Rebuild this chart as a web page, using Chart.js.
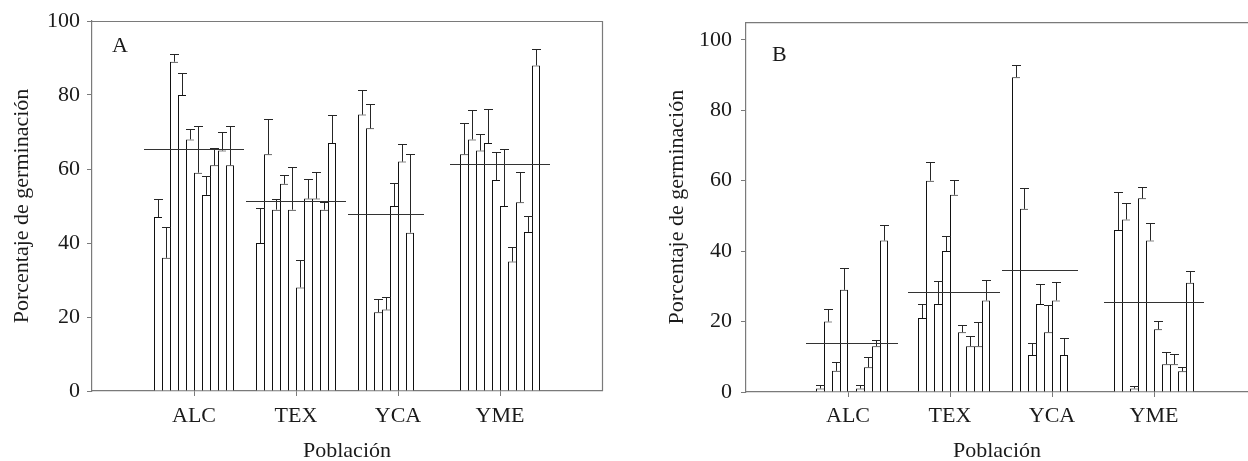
<!DOCTYPE html>
<html><head><meta charset="utf-8">
<script src="https://cdn.jsdelivr.net/npm/chart.js@4/dist/chart.umd.min.js"></script>
<style>
html,body{margin:0;padding:0;background:#fff;overflow:hidden}
#wa{position:absolute;left:0;top:0;width:620px;height:461px}
#wb{position:absolute;left:640px;top:0;width:608px;height:461px}
</style></head><body>
<div id="wa"><canvas id="ca"></canvas></div>
<div id="wb"><canvas id="cb"></canvas></div>
<script>
// ---------- data ----------
const categories = ['ALC', 'TEX', 'YCA', 'YME'];
const yTickValues = [0, 20, 40, 60, 80, 100];
const xTitle = 'Población';
const yTitle = 'Porcentaje de germinación';

// Panel A: 10 bars per population (null = no bar)
const a_ALC = [47, 36, 89, 80, 68, 59, 53, 61, 65, 61];
const a_TEX = [40, 64, 49, 56, 49, 28, 52, 52, 49, 67];
const a_YCA = [74.7, 71, 21.3, 22, 50, 62, 42.8, null, null, null];
const a_YME = [64, 68, 65, 67, 57, 50, 35, 51, 43, 88];
const aErr_ALC = [5, 8.3, 2, 6, 2.8, 12.5, 5, 4.8, 5.1, 10.5];
const aErr_TEX = [9.5, 9.5, 3, 2.4, 11.5, 7.5, 5.4, 7.1, 2.1, 7.7];
const aErr_YCA = [6.7, 6.7, 3.7, 3.5, 6.2, 4.7, 21.2, null, null, null];
const aErr_YME = [8.5, 7.9, 4.5, 9.3, 7.7, 15.5, 3.8, 8.1, 4.3, 4.4];
const aMeans = [65.5, 51.3, 47.8, 61.3];

// Panel B
const b_ALC = [null, 1, 20, 6, 29, null, 1, 7, 13, 43];
const b_TEX = [null, 21, 60, 25, 40, 56, 17, 13, 13, 26];
const b_YCA = [89.4, 52, 10.5, 25, 17, 26, 10.5, null, null, null];
const b_YME = [46, 49, 1, 55, 43, 17.8, 7.9, 7.9, 5.9, 31];
const bErr_ALC = [null, 1, 3.5, 2.4, 6.1, null, 1, 2.9, 1.9, 4.4];
const bErr_TEX = [null, 4.1, 5.3, 6.4, 4.3, 4.1, 1.9, 2.9, 6.8, 5.8];
const bErr_YCA = [3.5, 5.8, 3.5, 5.6, 7.7, 5.2, 4.9, null, null, null];
const bErr_YME = [10.9, 4.7, 0.8, 3.1, 5, 2.5, 3.5, 2.8, 1.1, 3.4];
const bMeans = [13.9, 28.5, 34.5, 25.6];

// ---------- rendering ----------
const FONT = "'Liberation Serif', 'Times New Roman', serif";
Chart.defaults.font.family = FONT;
Chart.defaults.color = '#1a1a1a';
const AXIS = '#7a7a7a';
const INK = '#111111';

function makeChart(canvasId, groups, errs, means, cfg) {
  const nSlots = 10;
  const datasets = [];
  for (let s = 0; s < nSlots; s++) {
    datasets.push({
      type: 'bar',
      data: groups.map((g, j) => ({ x: j + 1, y: g[s] })),
      backgroundColor: '#ffffff',
      borderColor: INK,
      borderSkipped: false,
      borderWidth: (ctx) => {
        if (ctx.type !== 'data') return 1;
        const g = groups[ctx.dataIndex];
        const nxt = g[ctx.datasetIndex + 1];
        return { left: 1, top: 1, bottom: 0, right: (ctx.datasetIndex === nSlots - 1 || nxt == null) ? 1 : 0 };
      },
      categoryPercentage: 80 / 102,
      barPercentage: 1.0,
      order: 1
    });
  }

  const overlay = {
    id: 'overlay' + canvasId,
    afterDatasetsDraw(chart) {
      const ctx = chart.ctx;
      const ys = chart.scales.y;
      const area = chart.chartArea;
      ctx.save();
      // error bars
      ctx.strokeStyle = '#262626';
      ctx.lineWidth = 1;
      for (let s = 0; s < nSlots; s++) {
        const meta = chart.getDatasetMeta(s);
        meta.data.forEach((el, j) => {
          const v = groups[j][s];
          const e = errs[j][s];
          if (v == null || e == null) return;
          const yc = Math.round(ys.getPixelForValue(v + e)) + 0.5;
          const x = Math.round(el.x) + 0.5;
          const hw = el.width / 2;
          ctx.beginPath();
          ctx.moveTo(x, el.y);
          ctx.lineTo(x, yc);
          ctx.moveTo(el.x - hw, yc);
          ctx.lineTo(el.x + hw + 1, yc);
          ctx.stroke();
        });
      }
      // mean lines
      ctx.strokeStyle = '#333';
      ctx.lineWidth = 1.1;
      means.forEach((m, j) => {
        let lo = Infinity, hi = -Infinity;
        for (let s = 0; s < nSlots; s++) {
          if (groups[j][s] == null) continue;
          const el = chart.getDatasetMeta(s).data[j];
          lo = Math.min(lo, el.x - el.width / 2);
          hi = Math.max(hi, el.x + el.width / 2);
        }
        const y = Math.round(ys.getPixelForValue(m)) + 0.5;
        ctx.beginPath();
        ctx.moveTo(lo - 10, y);
        ctx.lineTo(hi + 10, y);
        ctx.stroke();
      });
      // frame (top and optional right)
      ctx.strokeStyle = AXIS;
      ctx.lineWidth = 1.2;
      ctx.beginPath();
      ctx.moveTo(area.left, area.top + 0.5);
      ctx.lineTo(cfg.frameRight ? area.right + 0.5 : chart.width, area.top + 0.5);
      if (cfg.frameRight) ctx.lineTo(area.right + 0.5, area.bottom);
      ctx.stroke();
      // panel letter
      ctx.fillStyle = '#1a1a1a';
      ctx.font = "22px " + FONT;
      ctx.textBaseline = 'middle';
      ctx.textAlign = 'left';
      ctx.fillText(cfg.letter, area.left + cfg.letterDx, area.top + cfg.letterDy);
      ctx.restore();
    }
  };

  return new Chart(document.getElementById(canvasId), {
    type: 'bar',
    data: { datasets },
    options: {
      responsive: true,
      maintainAspectRatio: false,
      animation: false,
      events: [],
      layout: { padding: cfg.padding },
      plugins: { legend: { display: false }, tooltip: { enabled: false } },
      scales: {
        x: {
          type: 'linear',
          min: 0,
          max: cfg.xMax,
          offset: false,
          afterFit: (s) => { s.height = cfg.xHeight; },
          afterBuildTicks: (s) => { s.ticks = categories.map((c, i) => ({ value: i + 1 })); },
          ticks: {
            callback: (v) => categories[v - 1] || '',
            font: { size: 22, lineHeight: 1.2 },
            color: '#1a1a1a',
            padding: cfg.xTickPad,
            maxRotation: 0,
            autoSkip: false
          },
          grid: { drawOnChartArea: false, drawTicks: true, tickLength: 5, tickColor: AXIS, offset: false },
          border: { display: true, color: AXIS, width: 1.2 },
          title: { display: true, text: xTitle, color: '#1a1a1a', font: { size: 22, lineHeight: '19px' }, padding: { top: 0, bottom: 0 } }
        },
        y: {
          type: 'linear',
          min: 0,
          max: cfg.yMax,
          afterFit: (s) => { s.width = cfg.yWidth; },
          afterBuildTicks: (s) => { s.ticks = yTickValues.map(v => ({ value: v })); },
          ticks: { font: { size: 22 }, color: '#1a1a1a', padding: cfg.yTickPad },
          grid: { drawOnChartArea: false, drawTicks: true, tickLength: 5, tickColor: AXIS },
          border: { display: true, color: AXIS, width: 1.2 },
          title: { display: true, text: yTitle, color: '#1a1a1a', font: { size: 22, lineHeight: 1.2 }, padding: { top: cfg.yTitlePad, bottom: 0 } }
        }
      }
    },
    plugins: [overlay]
  });
}

makeChart('ca',
  [a_ALC, a_TEX, a_YCA, a_YME],
  [aErr_ALC, aErr_TEX, aErr_YCA, aErr_YME],
  aMeans,
  { padding: { left: 0, right: 18, top: 21, bottom: 0 }, xMax: 5, yMax: 100, xHeight: 70, yWidth: 92,
    xTickPad: 7, yTickPad: 7, yTitlePad: 9, frameRight: true, letter: 'A', letterDx: 20, letterDy: 25 });

makeChart('cb',
  [b_ALC, b_TEX, b_YCA, b_YME],
  [bErr_ALC, bErr_TEX, bErr_YCA, bErr_YME],
  bMeans,
  { padding: { left: 0, right: 0, top: 22, bottom: 0 }, xMax: 502 / 102, yMax: 105, xHeight: 69, yWidth: 106,
    xTickPad: 6, yTickPad: 9, yTitlePad: 24, frameRight: false, letter: 'B', letterDx: 26, letterDy: 33 });
</script>
</body></html>
